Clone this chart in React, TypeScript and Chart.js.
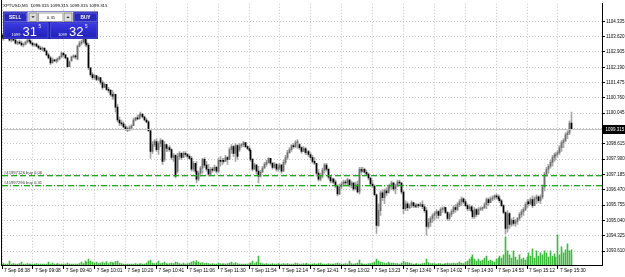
import React, { useEffect, useRef } from 'react';
import { Chart, registerables } from 'chart.js';

Chart.register(...registerables);

// ---------- text / labels ----------
const symbolTitle = 'XPTUSD,M1  1099.315 1099.315 1099.315 1099.315';
const lotSize = '0.31';
const sellQuote = ['1099', '31', '5'];
const buyQuote = ['1099', '32', '5'];

const timeLabels = [
  '7 Sep 08:38', '7 Sep 09:08', '7 Sep 09:40', '7 Sep 10:01', '7 Sep 10:20', '7 Sep 10:41',
  '7 Sep 11:06', '7 Sep 11:30', '7 Sep 11:54', '7 Sep 12:14', '7 Sep 12:41', '7 Sep 13:02',
  '7 Sep 13:23', '7 Sep 13:40', '7 Sep 14:02', '7 Sep 14:30', '7 Sep 14:53', '7 Sep 15:12', '7 Sep 15:30',
];
const barsPerGrid = 16;

const priceTicks = [
  1104.335, 1103.62, 1102.905, 1102.19, 1101.475, 1100.76, 1100.045, 1099.33,
  1098.615, 1097.9, 1097.185, 1096.47, 1095.755, 1095.04, 1094.325, 1093.61,
];

const bidPrice = 1099.315;
const bidLabel = '1099.315';
const orderLabels = ['#41997126 buy 0.06', '#41997290 buy 0.31'];
const orderPrices = [1097.14, 1096.68];

// ---------- M1 candles ----------
const openP = [
  1103.69,1103.55,1103.60,1103.69,1103.64,1103.46,1103.50,1103.46,1103.32,1103.37,1103.32,1103.23,1103.27,1103.37,1103.46,1103.41,
  1103.32,1103.23,1103.27,1103.18,1103.09,1103.04,1103.09,1102.95,1102.77,1102.63,1102.40,1102.54,1102.49,1102.54,1102.58,1102.68,
  1102.86,1102.77,1102.63,1102.22,1102.49,1102.68,1102.72,1102.58,1103.18,1103.32,1103.37,1103.64,1103.32,1103.23,1102.17,1101.85,
  1101.71,1101.80,1101.62,1101.71,1101.48,1101.25,1101.39,1101.16,1101.11,1100.93,1100.84,1100.93,1100.33,1099.73,1099.59,1099.55,
  1099.41,1099.32,1099.27,1099.36,1099.46,1099.73,1099.82,1099.78,1099.96,1100.01,1099.87,1099.73,1099.64,1099.23,1098.26,1098.58,
  1098.72,1098.35,1098.63,1098.77,1097.89,1098.58,1098.40,1098.44,1098.35,1097.98,1098.08,1097.34,1098.03,1098.17,1097.98,1098.17,
  1098.12,1098.03,1097.94,1097.43,1097.71,1097.34,1096.97,1097.25,1097.48,1097.89,1097.62,1097.43,1097.20,1097.43,1097.39,1097.52,
  1097.34,1097.85,1097.80,1097.85,1097.80,1097.98,1097.89,1098.35,1098.49,1098.17,1098.54,1098.35,1098.54,1098.58,1098.67,1098.49,
  1098.40,1098.31,1097.89,1097.43,1097.62,1097.34,1097.11,1097.29,1097.48,1097.66,1097.75,1097.94,1097.71,1097.52,1097.66,1097.43,
  1097.52,1097.62,1097.34,1097.75,1097.98,1098.21,1098.35,1098.54,1098.49,1098.67,1098.58,1098.44,1098.26,1098.40,1098.21,1098.26,
  1098.12,1097.98,1097.80,1097.71,1097.25,1096.97,1097.11,1097.39,1097.62,1097.43,1097.06,1096.88,1096.97,1096.83,1096.65,1096.28,
  1096.60,1096.74,1096.83,1096.79,1096.93,1096.70,1096.79,1096.51,1096.70,1096.37,1097.43,1097.34,1097.43,1097.29,1097.20,1097.02,
  1096.74,1096.65,1096.24,1094.81,1095.50,1096.33,1096.10,1096.42,1096.33,1096.56,1096.65,1096.79,1096.51,1096.65,1096.83,1096.79,
  1096.37,1095.59,1095.82,1095.64,1095.73,1095.87,1095.73,1095.68,1095.78,1095.73,1095.78,1095.68,1095.50,1094.76,1094.95,1095.13,
  1095.27,1095.36,1095.45,1095.27,1095.55,1095.59,1095.64,1095.41,1095.13,1095.32,1095.45,1095.64,1095.55,1095.78,1095.91,1096.05,
  1095.91,1095.73,1095.59,1095.68,1095.50,1095.22,1095.55,1095.32,1095.55,1095.59,1095.64,1095.78,1096.01,1095.87,1096.05,1096.10,
  1096.19,1096.14,1096.05,1095.96,1095.73,1095.41,1094.67,1095.36,1094.86,1095.04,1094.90,1095.00,1095.13,1095.32,1095.45,1095.55,
  1095.78,1095.91,1095.82,1096.01,1095.73,1096.05,1096.14,1095.96,1096.14,1096.60,1097.20,1097.43,1097.57,1097.75,1097.98,1098.08,
  1098.12,1098.21,1098.44,1098.67,1098.77,1099.04,1099.13,1099.59,
];
const highP = [
  1103.78,1103.64,1103.73,1103.78,1103.69,1103.55,1103.60,1103.50,1103.41,1103.46,1103.41,1103.32,1103.41,1103.50,1103.55,1103.46,
  1103.37,1103.32,1103.32,1103.23,1103.18,1103.14,1103.09,1103.00,1102.86,1102.72,1102.63,1102.58,1102.58,1102.63,1102.72,1102.91,
  1102.86,1102.77,1102.63,1102.49,1102.72,1102.77,1102.77,1103.23,1103.41,1103.46,1103.73,1103.64,1103.50,1103.32,1102.17,1101.94,
  1101.85,1101.80,1101.76,1101.71,1101.57,1101.48,1101.39,1101.25,1101.16,1101.11,1101.02,1100.93,1100.47,1099.87,1099.73,1099.64,
  1099.50,1099.41,1099.46,1099.50,1099.82,1099.87,1099.96,1100.01,1100.10,1100.01,1099.92,1099.82,1099.69,1099.27,1098.72,1098.81,
  1098.86,1098.72,1098.86,1098.81,1098.72,1098.58,1098.49,1098.54,1098.40,1098.17,1098.12,1098.17,1098.26,1098.21,1098.26,1098.26,
  1098.17,1098.12,1098.03,1097.80,1097.71,1097.80,1097.34,1097.57,1097.94,1097.98,1097.80,1097.66,1097.52,1097.52,1097.62,1097.57,
  1097.94,1098.03,1097.94,1097.94,1098.08,1098.03,1098.44,1098.58,1098.54,1098.63,1098.58,1098.63,1098.63,1098.72,1098.67,1098.54,
  1098.49,1098.35,1097.94,1097.71,1097.66,1097.57,1097.39,1097.57,1097.75,1097.85,1097.98,1097.94,1097.75,1097.75,1097.71,1097.62,
  1097.71,1097.66,1097.85,1098.08,1098.31,1098.44,1098.58,1098.63,1098.77,1098.81,1098.63,1098.49,1098.49,1098.44,1098.35,1098.31,
  1098.21,1098.08,1097.98,1097.71,1097.43,1097.25,1097.48,1097.71,1097.71,1097.48,1097.11,1097.02,1097.02,1096.93,1096.70,1096.74,
  1096.83,1096.93,1096.93,1097.02,1096.97,1096.88,1096.83,1096.83,1096.88,1097.52,1097.52,1097.52,1097.48,1097.39,1097.25,1097.06,
  1096.93,1096.70,1096.28,1095.82,1096.42,1096.47,1096.51,1096.56,1096.65,1096.74,1096.88,1096.83,1096.74,1096.93,1096.93,1096.83,
  1096.42,1095.96,1095.91,1095.82,1095.96,1095.87,1095.82,1095.82,1095.82,1095.87,1095.96,1095.78,1095.64,1095.13,1095.22,1095.36,
  1095.45,1095.55,1095.50,1095.64,1095.68,1095.68,1095.64,1095.45,1095.41,1095.55,1095.73,1095.78,1095.87,1096.01,1096.14,1096.10,
  1096.01,1095.82,1095.78,1095.73,1095.68,1095.64,1095.59,1095.64,1095.68,1095.68,1095.87,1096.10,1096.10,1096.14,1096.19,1096.24,
  1096.28,1096.24,1096.19,1096.01,1095.78,1095.45,1095.50,1095.41,1095.13,1095.18,1095.09,1095.18,1095.41,1095.55,1095.64,1095.87,
  1096.01,1096.01,1096.10,1096.19,1096.14,1096.24,1096.19,1096.24,1096.70,1097.29,1097.52,1097.66,1097.85,1098.08,1098.17,1098.21,
  1098.31,1098.54,1098.77,1098.86,1099.13,1099.23,1099.69,1100.10,
];
const lowP = [
  1103.50,1103.46,1103.55,1103.60,1103.41,1103.37,1103.41,1103.27,1103.23,1103.27,1103.18,1103.14,1103.23,1103.32,1103.37,1103.27,
  1103.18,1103.18,1103.14,1103.04,1103.00,1102.95,1102.91,1102.72,1102.58,1102.31,1102.40,1102.45,1102.40,1102.45,1102.54,1102.63,
  1102.68,1102.58,1102.17,1102.22,1102.49,1102.63,1102.58,1102.54,1103.14,1103.23,1103.32,1103.18,1103.14,1102.08,1101.76,1101.62,
  1101.62,1101.57,1101.57,1101.39,1101.16,1101.25,1101.11,1101.02,1100.84,1100.70,1100.70,1100.10,1099.64,1099.46,1099.46,1099.36,
  1099.23,1099.18,1099.23,1099.27,1099.46,1099.69,1099.73,1099.78,1099.87,1099.82,1099.69,1099.59,1099.18,1097.94,1098.17,1098.49,
  1098.26,1098.12,1098.49,1097.66,1097.80,1098.26,1098.26,1098.26,1097.89,1097.80,1097.02,1097.25,1097.89,1097.89,1097.98,1098.03,
  1097.94,1097.89,1097.34,1097.34,1097.25,1096.79,1096.88,1097.11,1097.25,1097.52,1097.34,1097.11,1097.16,1097.29,1097.34,1097.25,
  1097.25,1097.57,1097.66,1097.71,1097.80,1097.66,1097.89,1098.17,1098.03,1097.80,1097.89,1098.26,1098.44,1098.49,1098.44,1098.35,
  1098.26,1097.80,1097.34,1097.43,1097.20,1096.79,1097.06,1097.29,1097.48,1097.57,1097.71,1097.62,1097.43,1097.48,1097.34,1097.34,
  1097.43,1097.25,1097.34,1097.66,1097.89,1098.17,1098.26,1098.40,1098.44,1098.40,1098.35,1098.17,1098.26,1098.12,1098.12,1098.03,
  1097.89,1097.71,1097.66,1097.11,1096.88,1096.88,1097.02,1097.25,1097.34,1096.97,1096.79,1096.79,1096.74,1096.56,1096.19,1096.24,
  1096.51,1096.65,1096.70,1096.65,1096.60,1096.56,1096.42,1096.47,1096.33,1096.28,1097.25,1097.29,1097.25,1097.16,1096.93,1096.65,
  1096.56,1096.19,1094.44,1094.76,1095.27,1095.96,1095.82,1096.19,1096.33,1096.42,1096.51,1096.42,1096.28,1096.60,1096.70,1096.28,
  1095.36,1095.50,1095.50,1095.59,1095.64,1095.64,1095.64,1095.64,1095.64,1095.68,1095.59,1095.41,1094.35,1094.67,1094.76,1094.95,
  1095.04,1095.13,1095.13,1095.27,1095.41,1095.50,1095.36,1095.04,1095.04,1095.22,1095.36,1095.41,1095.50,1095.68,1095.73,1095.82,
  1095.68,1095.50,1095.50,1095.41,1095.13,1095.13,1095.22,1095.32,1095.50,1095.50,1095.59,1095.59,1095.73,1095.87,1095.96,1096.01,
  1096.05,1095.96,1095.87,1095.68,1095.36,1094.40,1094.49,1094.67,1094.76,1094.81,1094.76,1094.86,1095.04,1095.18,1095.27,1095.50,
  1095.64,1095.73,1095.78,1095.64,1095.73,1095.82,1095.87,1095.82,1096.05,1096.42,1097.11,1097.25,1097.48,1097.57,1097.80,1097.89,
  1097.98,1098.12,1098.26,1098.44,1098.72,1098.86,1099.04,1099.27,
];
const closeP = [
  1103.55,1103.60,1103.69,1103.64,1103.46,1103.50,1103.46,1103.32,1103.37,1103.32,1103.23,1103.27,1103.37,1103.46,1103.41,1103.32,
  1103.23,1103.27,1103.18,1103.09,1103.04,1103.09,1102.95,1102.77,1102.63,1102.40,1102.54,1102.49,1102.54,1102.58,1102.68,1102.86,
  1102.77,1102.63,1102.22,1102.45,1102.68,1102.72,1102.68,1103.18,1103.32,1103.37,1103.64,1103.32,1103.23,1102.17,1101.85,1101.71,
  1101.80,1101.62,1101.71,1101.48,1101.25,1101.39,1101.16,1101.11,1100.93,1100.84,1100.93,1100.33,1099.73,1099.59,1099.55,1099.41,
  1099.32,1099.27,1099.36,1099.46,1099.73,1099.82,1099.78,1099.96,1100.01,1099.87,1099.73,1099.64,1099.23,1098.26,1098.58,1098.72,
  1098.35,1098.63,1098.77,1097.80,1098.58,1098.40,1098.44,1098.35,1097.98,1098.08,1097.11,1098.03,1098.17,1097.98,1098.17,1098.12,
  1098.03,1097.94,1097.43,1097.71,1097.34,1096.97,1097.25,1097.48,1097.89,1097.62,1097.43,1097.20,1097.43,1097.39,1097.52,1097.34,
  1097.85,1097.80,1097.85,1097.80,1097.98,1097.89,1098.35,1098.49,1098.17,1098.54,1098.03,1098.54,1098.58,1098.67,1098.49,1098.40,
  1098.31,1097.89,1097.43,1097.62,1097.34,1097.11,1097.29,1097.48,1097.66,1097.75,1097.94,1097.71,1097.52,1097.66,1097.43,1097.52,
  1097.62,1097.34,1097.75,1097.98,1098.21,1098.35,1098.54,1098.49,1098.67,1098.72,1098.44,1098.26,1098.40,1098.21,1098.26,1098.12,
  1097.98,1097.80,1097.71,1097.25,1096.97,1097.11,1097.39,1097.62,1097.43,1097.06,1096.88,1096.97,1096.83,1096.65,1096.28,1096.60,
  1096.74,1096.83,1096.79,1096.93,1096.70,1096.79,1096.51,1096.70,1096.37,1097.43,1097.34,1097.43,1097.29,1097.20,1097.02,1096.74,
  1096.65,1096.24,1094.81,1095.50,1096.33,1096.10,1096.42,1096.33,1096.56,1096.65,1096.79,1096.51,1096.65,1096.83,1096.79,1096.37,
  1095.59,1095.82,1095.64,1095.73,1095.87,1095.73,1095.68,1095.78,1095.73,1095.78,1095.68,1095.50,1094.76,1094.95,1095.13,1095.27,
  1095.36,1095.45,1095.27,1095.55,1095.59,1095.64,1095.41,1095.13,1095.32,1095.45,1095.64,1095.55,1095.78,1095.91,1096.05,1095.91,
  1095.73,1095.59,1095.68,1095.50,1095.22,1095.55,1095.32,1095.55,1095.59,1095.64,1095.78,1096.01,1095.87,1096.05,1096.10,1096.19,
  1096.14,1096.05,1095.96,1095.73,1095.41,1094.67,1095.36,1094.86,1095.04,1094.90,1095.00,1095.13,1095.32,1095.45,1095.55,1095.78,
  1095.91,1095.82,1096.01,1095.73,1096.05,1096.14,1095.96,1096.14,1096.60,1097.20,1097.43,1097.57,1097.75,1097.98,1098.08,1098.12,
  1098.21,1098.44,1098.67,1098.77,1099.04,1099.13,1099.59,1099.315,
];
const tickVolume = [
  2,3,2,2,8,2,3,2,2,3,6,2,2,3,2,2,
  2,2,3,2,2,2,2,2,6,2,4,2,2,3,2,2,
  2,2,4,2,2,2,2,2,3,6,3,8,6,12,8,6,
  4,6,3,4,6,4,7,3,6,5,4,7,8,4,3,2,
  2,2,2,2,2,3,2,2,3,2,2,4,8,10,4,3,
  4,8,3,4,6,3,2,3,4,3,6,5,3,2,4,2,
  3,4,6,8,5,9,6,4,5,3,4,3,2,3,2,2,
  4,3,2,3,2,3,4,6,3,5,3,2,2,2,2,2,
  3,4,8,3,6,18,4,3,2,3,2,2,3,2,2,3,
  2,2,3,2,3,2,2,2,4,3,2,2,3,2,4,2,
  2,2,3,2,3,4,2,2,2,3,2,2,2,3,4,3,
  2,2,3,2,8,3,2,3,4,10,3,2,2,2,3,3,
  4,6,12,8,6,5,4,3,6,3,4,4,3,3,2,4,
  8,5,5,4,3,2,2,3,2,2,3,4,12,5,3,3,
  3,2,3,3,2,2,3,4,3,3,4,3,4,6,4,3,
  6,8,12,16,20,12,8,12,8,10,14,18,8,10,8,6,
  12,14,18,14,20,56,28,20,14,28,16,10,20,12,14,10,
  16,24,18,32,14,28,18,24,20,28,24,16,28,18,22,16,
  60,20,36,24,30,42,28,30,
];

const X_MIN = -0.52;
const X_MAX = 310.85;
const Y_MIN = 1092.96;
const Y_MAX = 1105.16;
const VOL_MAX = 520;

const FONT = 'Liberation Sans';

function drawTriangle(ctx: CanvasRenderingContext2D, cx: number, cy: number, up: boolean) {
  ctx.beginPath();
  if (up) {
    ctx.moveTo(cx - 1.6, cy + 0.9);
    ctx.lineTo(cx + 1.6, cy + 0.9);
    ctx.lineTo(cx, cy - 0.9);
  } else {
    ctx.moveTo(cx - 1.6, cy - 0.9);
    ctx.lineTo(cx + 1.6, cy - 0.9);
    ctx.lineTo(cx, cy + 0.9);
  }
  ctx.closePath();
  ctx.fill();
}

function drawQuote(ctx: CanvasRenderingContext2D, x: number, q: string[]) {
  ctx.fillStyle = '#ffffff';
  ctx.textBaseline = 'alphabetic';
  ctx.textAlign = 'left';
  ctx.font = `4px "${FONT}"`;
  ctx.fillText(q[0], x, 35.6);
  ctx.font = `13px "${FONT}"`;
  ctx.fillText(q[1], x + 11, 36.2);
  ctx.font = `4.6px "${FONT}"`;
  ctx.fillText(q[2], x + 27, 27.5);
}

// snap the 1px candle / volume columns (positioned by the x scale) onto whole pixels
const pixelSnapPlugin = {
  id: 'pixelSnap',
  afterDatasetsUpdate(chart: any) {
    chart.data.datasets.forEach((_ds: any, di: number) => {
      const meta = chart.getDatasetMeta(di);
      meta.data.forEach((el: any) => {
        el.x = Math.floor(el.x) + 0.5;
      });
    });
  },
};

const mtPlugin = {
  id: 'mt4Overlay',
  afterDraw(chart: any) {
    const { ctx, chartArea: a, scales, width } = chart;
    const ys = scales.y;
    ctx.save();

    // bid line
    const by = Math.round(ys.getPixelForValue(bidPrice));
    ctx.fillStyle = '#c4c4c4';
    ctx.fillRect(a.left, by, a.right - a.left, 1);

    // order lines
    orderPrices.forEach((p, k) => {
      const py = Math.round(ys.getPixelForValue(p));
      const pattern = k === 0 ? [6, 3] : [6, 2, 1, 2];
      let x = a.left + 1;
      let seg = 0;
      while (x < a.right) {
        const len = pattern[seg % pattern.length];
        if (seg % 2 === 0) {
          const w = Math.min(len, a.right - x);
          ctx.fillStyle = '#22aa22';
          ctx.fillRect(x, py, w, 1);
          ctx.fillStyle = 'rgba(34,170,34,0.35)';
          ctx.fillRect(x, py + 1, w, 1);
        }
        x += len;
        seg++;
      }
      ctx.fillStyle = '#333333';
      ctx.font = `4.2px "${FONT}"`;
      ctx.textBaseline = 'alphabetic';
      ctx.textAlign = 'left';
      ctx.fillText(orderLabels[k], a.left + 3, py - 1.5);
    });

    // left frame line
    ctx.fillStyle = '#000';
    ctx.fillRect(Math.round(a.left), 0, 1, a.bottom);

    // current price box
    ctx.fillStyle = '#000';
    ctx.fillRect(a.right, by - 4, width - a.right, 9);
    ctx.fillStyle = '#fff';
    ctx.font = `4.5px "${FONT}"`;
    ctx.textBaseline = 'middle';
    ctx.textAlign = 'left';
    ctx.fillText(bidLabel, a.right + 3.5, by + 0.5);

    // title
    ctx.fillStyle = '#000';
    ctx.font = `4.4px "${FONT}"`;
    ctx.fillText(symbolTitle, 3, 5.6);

    // one-click trading panel
    ctx.fillStyle = '#1a1a9c';
    ctx.fillRect(3, 11.5, 95, 27.5);
    ctx.fillStyle = '#ffffff';
    ctx.fillRect(27.5, 12, 46, 10);
    const btn = (x: number, w: number, t: string) => {
      ctx.fillStyle = '#2a2ab8';
      ctx.fillRect(x, 12.5, w, 9.5);
      ctx.strokeStyle = '#5c5ce0';
      ctx.lineWidth = 1;
      ctx.strokeRect(x + 0.5, 13, w - 1, 8.5);
      ctx.fillStyle = '#ffffff';
      ctx.font = `bold 4.8px "${FONT}"`;
      ctx.textAlign = 'center';
      ctx.textBaseline = 'middle';
      ctx.fillText(t, x + w / 2, 17.3);
    };
    btn(3.5, 23.5, 'SELL');
    btn(73.5, 24, 'BUY');
    ctx.fillStyle = '#dcdcdc';
    ctx.fillRect(28.5, 12.5, 9, 9.5);
    ctx.fillRect(63.5, 12.5, 9, 9.5);
    ctx.strokeStyle = '#8c8c8c';
    ctx.strokeRect(29, 13, 8, 8.5);
    ctx.strokeRect(64, 13, 8, 8.5);
    ctx.fillStyle = '#222';
    drawTriangle(ctx, 33, 17.2, false);
    drawTriangle(ctx, 68, 17.2, true);
    ctx.fillStyle = '#ffffff';
    ctx.fillRect(38, 12.5, 25.5, 9.5);
    ctx.strokeStyle = '#a0a0a0';
    ctx.strokeRect(38.5, 13, 24.5, 8.5);
    ctx.fillStyle = '#111';
    ctx.font = `4.4px "${FONT}"`;
    ctx.textAlign = 'center';
    ctx.fillText(lotSize, 51, 17.4);
    const quoteBox = (x: number, w: number) => {
      const g = ctx.createLinearGradient(0, 22.5, 0, 38.5);
      g.addColorStop(0, '#3a3ae2');
      g.addColorStop(1, '#1f1fb6');
      ctx.fillStyle = g;
      ctx.fillRect(x, 22.5, w, 16);
      ctx.strokeStyle = '#4a4ad8';
      ctx.strokeRect(x + 0.5, 23, w - 1, 15);
    };
    quoteBox(3.5, 45);
    quoteBox(50, 47.5);
    drawQuote(ctx, 11.5, sellQuote);
    drawQuote(ctx, 58, buyQuote);
    ctx.restore();
  },
};

export default function App() {
  const canvasRef = useRef<HTMLCanvasElement | null>(null);

  useEffect(() => {
    document.body.style.margin = '0';
    const canvas = canvasRef.current;
    if (!canvas) return;

    const isUp = closeP.map((c, i) => c >= openP[i]);
    const bodyColors = isUp.map((u) => (u ? '#6e6e6e' : '#000000'));

    const chart = new Chart(canvas, {
      type: 'bar',
      data: {
        datasets: [
          {
            label: 'body',
            data: openP.map((o, i) => ({ x: i, y: [o, closeP[i]] })) as any,
            backgroundColor: bodyColors,
            barThickness: 1,
            minBarLength: 1,
            grouped: false,
            yAxisID: 'y',
          } as any,
          {
            label: 'wick',
            data: lowP.map((l, i) => ({ x: i, y: [l, highP[i]] })) as any,
            backgroundColor: '#a6a6a6',
            barThickness: 1,
            grouped: false,
            yAxisID: 'y',
          } as any,
          {
            label: 'volume',
            data: tickVolume.map((v, i) => ({ x: i, y: v })) as any,
            backgroundColor: '#3dbb3d',
            barThickness: 1,
            grouped: false,
            yAxisID: 'yv',
          } as any,
        ],
      },
      options: {
        responsive: false,
        animation: false,
        devicePixelRatio: 1,
        layout: { padding: { left: 1, top: 0, right: 0, bottom: 0 } },
        plugins: {
          legend: { display: false },
          tooltip: { enabled: false },
          title: { display: false },
        },
        scales: {
          x: {
            type: 'linear',
            min: X_MIN,
            max: X_MAX,
            offset: false,
            afterBuildTicks: (ax: any) => {
              ax.ticks = timeLabels.map((_, k) => ({ value: k * barsPerGrid }));
            },
            afterFit: (ax: any) => {
              ax.height = 12;
            },
            ticks: {
              autoSkip: false,
              maxRotation: 0,
              minRotation: 0,
              align: 'start',
              labelOffset: 2,
              padding: -1,
              color: '#000',
              font: { family: FONT, size: 4.8 },
              callback: (v: any) => timeLabels[Math.round(Number(v) / barsPerGrid)] ?? '',
            },
            grid: {
              color: '#c4c4c4',
              lineWidth: 1,
              drawTicks: true,
              tickLength: 4,
              tickColor: '#000',
              tickBorderDash: [],
              offset: false,
            },
            border: { display: true, color: '#000', dash: [1, 2] },
          } as any,
          y: {
            type: 'linear',
            position: 'right',
            min: Y_MIN,
            max: Y_MAX,
            afterBuildTicks: (ax: any) => {
              ax.ticks = priceTicks.map((v) => ({ value: v }));
            },
            afterFit: (ax: any) => {
              ax.width = 23;
            },
            ticks: {
              color: '#000',
              padding: 1,
              font: { family: FONT, size: 4.5 },
              callback: (_v: any, i: number) => priceTicks[i].toFixed(3),
            },
            grid: {
              color: '#c4c4c4',
              lineWidth: 1,
              drawTicks: true,
              tickLength: 3,
              tickColor: '#000',
              tickBorderDash: [],
            },
            border: { display: true, color: '#000', dash: [1, 2] },
          } as any,
          yv: {
            type: 'linear',
            display: false,
            min: 0,
            max: VOL_MAX,
          },
        },
      },
      plugins: [pixelSnapPlugin, mtPlugin],
    });

    return () => chart.destroy();
  }, []);

  return (
    <div style={{ position: 'relative', width: 625, height: 277, background: '#fff' }}>
      <canvas ref={canvasRef} width={625} height={277} style={{ display: 'block' }} />
    </div>
  );
}
